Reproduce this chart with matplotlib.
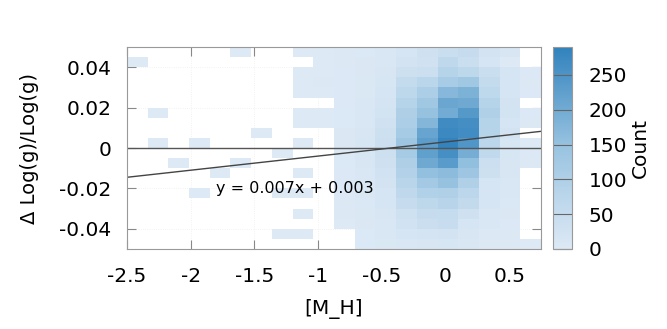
import numpy as np
import matplotlib
matplotlib.use("Agg")
import matplotlib.pyplot as plt
from matplotlib.colors import LinearSegmentedColormap

# 2D histogram of Delta log(g)/log(g) vs [M_H]; rows go from top (y=0.05) to bottom (y=-0.05)
x_range = (-2.5, 0.75)
y_range = (-0.05, 0.05)
n_bins = 20
counts = [
    [0, 0, 0, 0, 0, 1, 0, 0, 1, 1, 2, 4, 8, 17, 30, 45, 50, 22, 12, 0],
    [1, 0, 0, 0, 0, 0, 0, 0, 0, 1, 2, 5, 10, 22, 28, 65, 45, 18, 1, 0],
    [0, 0, 0, 0, 0, 0, 0, 0, 1, 1, 3, 5, 12, 37, 40, 88, 70, 45, 17, 3],
    [0, 0, 0, 0, 0, 0, 0, 0, 1, 2, 3, 6, 14, 55, 75, 115, 130, 55, 15, 2],
    [0, 0, 0, 0, 0, 0, 0, 0, 1, 1, 3, 6, 18, 70, 105, 170, 185, 67, 18, 3],
    [0, 0, 0, 0, 0, 0, 0, 0, 0, 0, 3, 8, 20, 88, 130, 210, 205, 87, 22, 0],
    [0, 1, 0, 0, 0, 0, 0, 0, 1, 1, 4, 9, 24, 100, 150, 200, 240, 97, 23, 3],
    [0, 0, 0, 0, 0, 0, 0, 0, 1, 1, 4, 10, 28, 105, 175, 270, 262, 87, 18, 2],
    [0, 0, 0, 0, 0, 0, 1, 0, 0, 0, 5, 12, 34, 120, 215, 275, 268, 88, 22, 0],
    [0, 1, 0, 1, 0, 0, 0, 0, 1, 0, 5, 14, 38, 135, 230, 287, 245, 72, 13, 1],
    [0, 0, 0, 0, 0, 0, 0, 1, 0, 0, 4, 14, 36, 120, 225, 260, 195, 62, 13, 3],
    [0, 0, 1, 0, 0, 1, 0, 0, 0, 0, 4, 12, 30, 100, 205, 235, 157, 38, 12, 2],
    [0, 0, 0, 0, 1, 0, 0, 0, 1, 0, 3, 10, 26, 90, 155, 165, 135, 37, 12, 0],
    [0, 0, 0, 0, 0, 0, 0, 0, 0, 0, 3, 9, 22, 80, 125, 150, 98, 18, 8, 0],
    [0, 0, 0, 1, 0, 0, 0, 1, 1, 0, 3, 8, 18, 65, 95, 97, 72, 17, 10, 0],
    [0, 0, 0, 0, 0, 0, 0, 0, 0, 0, 2, 7, 15, 50, 70, 83, 57, 15, 7, 0],
    [0, 0, 0, 0, 0, 0, 0, 0, 1, 0, 2, 6, 12, 32, 50, 52, 30, 8, 5, 0],
    [0, 0, 0, 0, 0, 0, 0, 0, 0, 0, 1, 5, 10, 25, 42, 47, 17, 8, 3, 0],
    [0, 0, 0, 0, 0, 0, 0, 1, 1, 0, 0, 4, 8, 15, 20, 22, 12, 2, 2, 0],
    [0, 0, 0, 0, 0, 0, 0, 0, 0, 0, 0, 4, 6, 10, 12, 13, 10, 2, 2, 1],
]
slope = 0.007
intercept = 0.003
x_ticks = [-2.5, -2, -1.5, -1, -0.5, 0, 0.5]
x_ticklabels = ["-2.5", "-2", "-1.5", "-1", "-0.5", "0", "0.5"]
y_ticks = [-0.04, -0.02, 0, 0.02, 0.04]
y_ticklabels = ["-0.04", "-0.02", "0", "0.02", "0.04"]
cbar_ticks = [0, 50, 100, 150, 200, 250]

x_edges = np.linspace(x_range[0], x_range[1], n_bins + 1)
y_edges = np.linspace(y_range[0], y_range[1], n_bins + 1)
grid = np.ma.masked_equal(np.array(counts)[::-1], 0)

cmap = LinearSegmentedColormap.from_list("blue_ramp", ["#dde9f5", "#9ac4e1", "#3182bd"])

fig = plt.figure(figsize=(6.67, 3.29), dpi=100)
ax = fig.add_axes([0.1904, 0.2432, 0.6207, 0.6139])
cax = fig.add_axes([0.829, 0.2432, 0.0285, 0.6139])

ax.set_axisbelow(True)
ax.grid(True, color="#eeeeee", lw=0.6, linestyle=":")
mesh = ax.pcolormesh(x_edges, y_edges, grid, cmap=cmap, vmin=0, vmax=290)

ax.axhline(0, color="#555555", lw=1)
xs = np.array(x_range)
ax.plot(xs, slope * xs + intercept, color="#444444", lw=1)
ax.text(-1.8, -0.0202, "y = %.3fx + %.3f" % (slope, intercept), fontsize=11.5,
        va="center", ha="left")

ax.set_xlim(*x_range)
ax.set_ylim(*y_range)
ax.set_xticks(x_ticks)
ax.set_xticklabels(x_ticklabels)
ax.set_yticks(y_ticks)
ax.set_yticklabels(y_ticklabels)
ax.tick_params(direction="in", length=6.5, width=0.8, color="#888888",
               top=True, right=True, labelsize=14.5)
ax.tick_params(axis="x", pad=13)
ax.tick_params(axis="y", pad=11)
for s in ax.spines.values():
    s.set_color("#999999")
ax.set_xlabel("[M_H]", fontsize=14.5, labelpad=9)
ax.set_ylabel("Δ Log(g)/Log(g)", fontsize=14, labelpad=15)

cb = fig.colorbar(mesh, cax=cax)
cb.set_ticks(cbar_ticks)
cb.outline.set_edgecolor("#999999")
cax.tick_params(direction="in", length=14, width=0.8, color="#666666", labelsize=14.5)
cax.yaxis.set_tick_params(pad=12)
cb.set_label("Count", fontsize=14.5)
cax.yaxis.set_label_coords(4.1, 0.5)

fig.savefig("out.png", dpi=100)
